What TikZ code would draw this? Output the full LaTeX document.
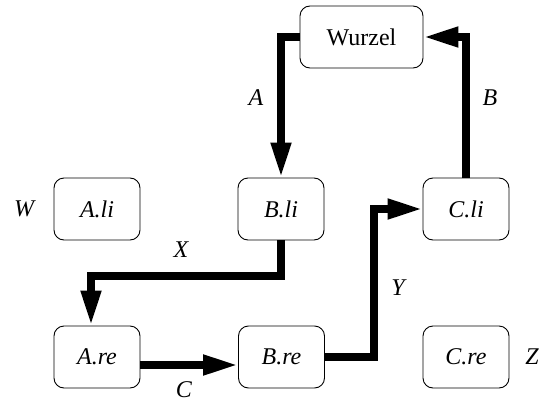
\documentclass[tikz,border=0pt]{standalone}
\usepackage{fontspec}
\setmainfont{Liberation Serif}
\usetikzlibrary{arrows.meta,calc}
\begin{document}
\begin{tikzpicture}[x=1pt,y=-1pt,
  font=\fontsize{24}{28}\selectfont,
  box/.style={draw,line width=0.9pt,rounded corners=10pt,minimum width=86pt,minimum height=62pt,inner sep=0pt},
  flow/.style={line width=7.5pt,line join=miter,-{Triangle[length=35pt,width=19pt]}},
  lbl/.style={inner sep=0pt,font=\fontsize{24}{28}\selectfont\itshape}]
\useasboundingbox (0,0) rectangle (544,407);
% boxes
\node[box,minimum width=123pt] (wurzel) at (361.5,37) {Wurzel};
\node[box] (ali) at (97,209) {\itshape A.li};
\node[box] (bli) at (281,209) {\itshape B.li};
\node[box] (cli) at (466,209) {\itshape C.li};
\node[box] (are) at (97,357) {\itshape A.re};
\node[box] (bre) at (281.5,357) {\itshape B.re};
\node[box] (cre) at (466,357) {\itshape C.re};
% bend points of the connectors
\coordinate (xk) at (91,276);
\coordinate (yk) at (374,357);
\coordinate (ck) at ($(are.east)+(0,8)$);
% connectors
\draw[flow] (wurzel.west) -| (bli.north);
\draw[flow] (cli.north) |- (wurzel.east);
\draw[flow] (bli.south) |- (xk) -- (xk |- are.north);
\draw[flow] (ck) -- (ck -| bre.west);
\draw[flow] (bre.east) -- (yk) |- (cli.west);
% labels
\node[lbl] (la) at (256,98) {A};
\node[lbl] (lb) at (490,98) {B};
\node[lbl] (lx) at (181,250) {X};
\node[lbl] (ly) at (398,288) {Y};
\node[lbl] (lc) at (184,390) {C};
\node[lbl] (lw) at (24,209) {W};
\node[lbl] (lz) at (532,357) {Z};
\end{tikzpicture}
\end{document}
